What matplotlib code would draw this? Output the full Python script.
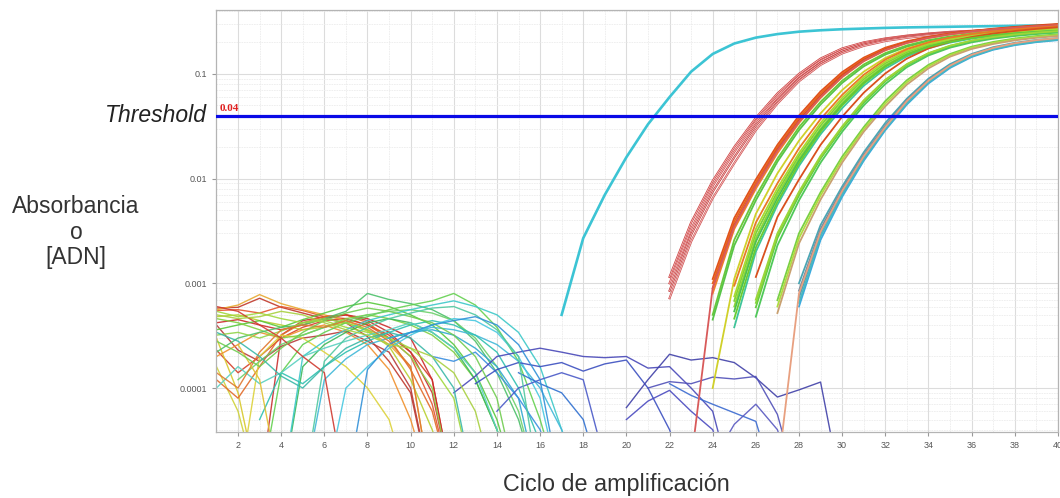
import numpy as np
import matplotlib.pyplot as plt
from matplotlib.ticker import LogLocator, NullFormatter, FixedLocator, MultipleLocator

plt.rcParams['font.family'] = ['Liberation Sans', 'DejaVu Sans']

# amplification curves: first cycle, fluorescence per cycle, colour
amp_start = [17, 22, 22, 22, 22,
             24, 24, 24, 24, 24, 24, 23, 24,
             25, 25, 25, 25, 25, 25,
             26, 26, 26, 26,
             27, 27, 27,
             28, 28, 28, 28, 28, 27,
             25, 26]
amp_values = [
    [5.0e-4, 2.7e-3, 7.0e-3, 0.016, 0.033, 0.06, 0.105, 0.155, 0.195, 0.222, 0.24, 0.253,
     0.261, 0.267, 0.271, 0.275, 0.278, 0.28, 0.282, 0.284, 0.286, 0.288, 0.29, 0.292],
    [1.15e-3, 3.8e-3, 9.5e-3, 0.02, 0.038, 0.065, 0.1, 0.14, 0.175, 0.2, 0.218, 0.232, 0.243,
     0.252, 0.258, 0.263, 0.267, 0.27, 0.273],
    [1.0e-3, 3.3e-3, 8.5e-3, 0.018, 0.035, 0.06, 0.095, 0.133, 0.168, 0.195, 0.214, 0.229,
     0.24, 0.249, 0.256, 0.261, 0.265, 0.269, 0.272],
    [8.5e-4, 2.9e-3, 7.5e-3, 0.016, 0.032, 0.056, 0.09, 0.127, 0.162, 0.19, 0.21, 0.225,
     0.237, 0.246, 0.253, 0.259, 0.263, 0.267, 0.27],
    [7.2e-4, 2.5e-3, 6.5e-3, 0.014, 0.029, 0.052, 0.085, 0.122, 0.157, 0.185, 0.206, 0.221,
     0.233, 0.243, 0.25, 0.256, 0.26, 0.264, 0.268],
    [1.1e-3, 4.2e-3, 0.0098, 0.021, 0.040, 0.068, 0.104, 0.143, 0.178, 0.205, 0.226, 0.243,
     0.257, 0.268, 0.278, 0.287, 0.296],
    [1.0e-3, 3.9e-3, 0.0092, 0.020, 0.038, 0.065, 0.100, 0.139, 0.174, 0.202, 0.224, 0.241,
     0.255, 0.267, 0.277, 0.286, 0.294],
    [9.0e-4, 3.6e-3, 0.0086, 0.019, 0.036, 0.062, 0.097, 0.136, 0.172, 0.201, 0.224, 0.242,
     0.257, 0.27, 0.281, 0.291, 0.30],
    [8.0e-4, 3.3e-3, 0.0080, 0.0175, 0.034, 0.059, 0.093, 0.132, 0.168, 0.197, 0.22, 0.238,
     0.253, 0.265, 0.275, 0.284, 0.292],
    [5.0e-4, 2.6e-3, 0.0068, 0.0155, 0.031, 0.054, 0.086, 0.123, 0.158, 0.187, 0.21, 0.228,
     0.242, 0.253, 0.262, 0.27, 0.277],
    [4.5e-4, 2.3e-3, 0.0062, 0.0145, 0.029, 0.051, 0.082, 0.118, 0.153, 0.182, 0.205, 0.223,
     0.237, 0.248, 0.257, 0.265, 0.272],
    [2.0e-5, 9.0e-4, 3.5e-3, 0.0085, 0.0185, 0.035, 0.06, 0.094, 0.133, 0.169, 0.198, 0.221,
     0.239, 0.254, 0.266, 0.276, 0.285, 0.293],
    [1.0e-4, 1.1e-3, 4.6e-3, 0.0112, 0.023, 0.042, 0.07, 0.105, 0.142, 0.175, 0.2, 0.22,
     0.236, 0.249, 0.26, 0.269, 0.277],
    [6.8e-4, 3.0e-3, 0.0075, 0.0165, 0.032, 0.056, 0.089, 0.126, 0.161, 0.19, 0.212, 0.229,
     0.242, 0.252, 0.26, 0.267],
    [6.0e-4, 2.7e-3, 0.007, 0.0155, 0.030, 0.053, 0.085, 0.121, 0.156, 0.185, 0.208, 0.225,
     0.238, 0.248, 0.256, 0.263],
    [5.4e-4, 2.5e-3, 0.0065, 0.0148, 0.029, 0.051, 0.082, 0.118, 0.153, 0.182, 0.204, 0.221,
     0.234, 0.244, 0.252, 0.259],
    [7.5e-4, 3.3e-3, 0.0081, 0.0175, 0.034, 0.059, 0.093, 0.131, 0.166, 0.194, 0.215, 0.231,
     0.244, 0.254, 0.262, 0.269],
    [3.8e-4, 2.0e-3, 0.0056, 0.0132, 0.0265, 0.047, 0.077, 0.112, 0.147, 0.176, 0.199, 0.217,
     0.231, 0.242, 0.25, 0.257],
    [9.5e-4, 3.8e-3, 0.009, 0.0195, 0.037, 0.063, 0.098, 0.137, 0.172, 0.2, 0.222, 0.24,
     0.254, 0.266, 0.276, 0.285],
    [1.15e-3, 4.3e-3, 0.0098, 0.021, 0.039, 0.066, 0.101, 0.14, 0.175, 0.203, 0.225, 0.243,
     0.257, 0.269, 0.279],
    [5.9e-4, 2.7e-3, 0.0069, 0.0155, 0.030, 0.053, 0.085, 0.121, 0.155, 0.183, 0.205, 0.222,
     0.235, 0.245, 0.253],
    [6.5e-4, 2.9e-3, 0.0073, 0.016, 0.031, 0.055, 0.087, 0.123, 0.157, 0.185, 0.207, 0.224,
     0.237, 0.247, 0.255],
    [4.8e-4, 2.3e-3, 0.0062, 0.0142, 0.028, 0.05, 0.08, 0.116, 0.15, 0.178, 0.2, 0.217,
     0.23, 0.24, 0.248],
    [6.9e-4, 3.0e-3, 0.0074, 0.0162, 0.031, 0.055, 0.087, 0.122, 0.155, 0.182, 0.202, 0.218,
     0.23, 0.239],
    [6.0e-4, 2.7e-3, 0.0069, 0.0152, 0.0295, 0.052, 0.083, 0.118, 0.151, 0.178, 0.198, 0.214,
     0.226, 0.235],
    [5.2e-4, 2.4e-3, 0.0063, 0.0142, 0.028, 0.049, 0.079, 0.113, 0.146, 0.173, 0.193, 0.209,
     0.221, 0.23],
    [1.0e-3, 3.6e-3, 0.0084, 0.0178, 0.034, 0.058, 0.09, 0.124, 0.155, 0.18, 0.198, 0.211, 0.22],
    [7.3e-4, 3.0e-3, 0.0074, 0.016, 0.031, 0.054, 0.085, 0.118, 0.149, 0.174, 0.192, 0.205, 0.214],
    [6.0e-4, 2.6e-3, 0.0067, 0.0148, 0.029, 0.051, 0.081, 0.114, 0.145, 0.17, 0.188, 0.201, 0.21],
    [8.5e-4, 3.3e-3, 0.0079, 0.0168, 0.032, 0.056, 0.087, 0.12, 0.151, 0.176, 0.194, 0.207, 0.216],
    [6.5e-4, 2.8e-3, 0.007, 0.0153, 0.0298, 0.052, 0.083, 0.116, 0.147, 0.172, 0.19, 0.203, 0.212],
    [1.5e-5, 8.0e-4, 3.1e-3, 0.0076, 0.0163, 0.031, 0.055, 0.086, 0.12, 0.152, 0.177, 0.196,
     0.21, 0.22],
    [4.6e-4, 2.2e-3, 0.006, 0.014, 0.028, 0.05, 0.081, 0.117, 0.152, 0.181, 0.203, 0.22,
     0.233, 0.243, 0.251, 0.258],
    [7.0e-4, 3.0e-3, 0.0075, 0.0165, 0.0315, 0.056, 0.088, 0.124, 0.158, 0.186, 0.208, 0.225,
     0.238, 0.248, 0.256],
]
amp_colors = ['#3cc4d4', '#cc3a3a', '#d04444', '#c23434', '#d05050',
              '#e0501c', '#e8661e', '#d84a1a', '#f07e2a', '#6cc83a', '#58c448', '#d85a5a', '#d0d02a',
              '#7cd23a', '#90d636', '#4cc050', '#a8da32', '#40c49a', '#e87a26',
              '#d9501e', '#64cc3c', '#86d43c', '#50c85a',
              '#78d044', '#b0dc40', '#c8a070',
              '#4aa6b4', '#5a9cb0', '#3aa8e0', '#7a8c9c', '#48b8c0', '#e8a080',
              '#68cc30', '#9cd63a']

# baseline noise curves
noise_start = [1, 1, 1, 1, 1, 1, 3, 1, 1, 1, 1, 2, 1,
               1, 1, 1, 3, 1, 2, 4, 1,
               4, 5, 3, 6, 9, 1, 11,
               12, 13, 14, 20, 21, 20, 22, 24, 15,
               1, 1, 2, 1, 5, 1, 7, 1]
noise_values = [
    [5.8e-4, 5.9e-4, 7.2e-4, 5.9e-4, 5.2e-4, 4.6e-4, 4.2e-4, 3.1e-4, 1.8e-4, 9e-5, 1e-5],
    [5.5e-4, 5.6e-4, 5.2e-4, 6.0e-4, 5.5e-4, 4.8e-4, 4.6e-4, 4.0e-4, 3.0e-4, 2.0e-4, 7e-5, 1e-5],
    [2.3e-4, 1.4e-4, 2.0e-4, 3.0e-4, 3.8e-4, 4.4e-4, 4.6e-4, 4.0e-4, 3.2e-4, 2.2e-4, 1.2e-4, 1e-5],
    [5.6e-4, 6.2e-4, 7.8e-4, 6.4e-4, 5.6e-4, 5.0e-4, 4.4e-4, 3.6e-4, 2.6e-4, 1.6e-4, 1e-5],
    [3.0e-4, 9e-5, 1e-5],
    [1.6e-4, 6e-5, 1e-5],
    [1e-5, 3.2e-4, 4.4e-4, 4.8e-4, 5.0e-4, 4.4e-4, 3.4e-4, 2.2e-4, 9e-5, 1e-5],
    [1.2e-4, 8e-5, 1.6e-4, 3.2e-4, 4.2e-4, 4.8e-4, 5.0e-4, 4.2e-4, 3.0e-4, 1.5e-4, 6e-5, 1e-5],
    [4.0e-4, 2.3e-4, 1.8e-4, 2.5e-4, 3.0e-4, 3.2e-4, 3.5e-4, 2.8e-4, 2.2e-4, 1.0e-4, 1e-5],
    [2.0e-4, 2.6e-4, 3.4e-4, 3.0e-4, 3.6e-4, 4.0e-4, 3.4e-4, 2.6e-4, 1.5e-4, 5e-5, 1e-5],
    [4.8e-4, 5.0e-4, 4.4e-4, 4.0e-4, 3.6e-4, 3.8e-4, 4.2e-4, 3.5e-4, 2.5e-4, 1.2e-4, 4e-5, 1e-5],
    [1e-5, 2.0e-4, 3.2e-4, 3.0e-4, 2.2e-4, 1.6e-4, 1.0e-4, 5e-5, 1e-5],
    [4.2e-4, 4.5e-4, 4.0e-4, 3.6e-4, 4.0e-4, 4.6e-4, 5.0e-4, 4.6e-4, 3.8e-4, 3.0e-4, 1.2e-4, 1e-5],
    [3.6e-4, 4.0e-4, 4.4e-4, 3.8e-4, 4.5e-4, 5.2e-4, 6.0e-4, 6.6e-4, 6.0e-4, 5.0e-4, 4.0e-4,
     2.6e-4, 1.4e-4, 5e-5, 1e-5],
    [4.6e-4, 4.2e-4, 3.6e-4, 3.0e-4, 3.2e-4, 3.8e-4, 4.6e-4, 5.0e-4, 4.6e-4, 4.0e-4, 3.2e-4,
     2.2e-4, 1.2e-4, 4e-5, 1e-5],
    [2.2e-4, 3.0e-4, 3.4e-4, 3.8e-4, 4.0e-4, 4.6e-4, 5.4e-4, 8.0e-4, 7.0e-4, 6.4e-4, 5.6e-4,
     4.4e-4, 2.8e-4, 1.4e-4, 5e-5, 1e-5],
    [1e-5, 1.4e-4, 2.6e-4, 3.4e-4, 4.2e-4, 4.8e-4, 5.6e-4, 6.2e-4, 6.8e-4, 8.0e-4, 6.2e-4,
     3.8e-4, 1.8e-4, 5e-5, 1e-5],
    [5.4e-4, 4.8e-4, 5.2e-4, 4.6e-4, 4.2e-4, 4.4e-4, 3.8e-4, 3.4e-4, 3.0e-4, 2.4e-4, 1.6e-4,
     8e-5, 1e-5],
    [1.2e-4, 1.8e-4, 2.6e-4, 3.2e-4, 3.8e-4, 4.4e-4, 5.0e-4, 5.4e-4, 5.6e-4, 5.2e-4, 4.4e-4,
     3.0e-4, 1.6e-4, 6e-5, 1e-5],
    [1e-5, 1.6e-4, 2.6e-4, 3.4e-4, 4.2e-4, 4.6e-4, 4.2e-4, 3.4e-4, 2.4e-4, 1.2e-4, 4e-5, 1e-5],
    [3.2e-4, 3.4e-4, 3.0e-4, 3.5e-4, 4.2e-4, 4.6e-4, 4.2e-4, 3.6e-4, 3.0e-4, 2.0e-4, 1.0e-4, 1e-5],
    [1e-5, 2.0e-4, 2.8e-4, 3.6e-4, 4.4e-4, 5.0e-4, 5.6e-4, 6.2e-4, 6.8e-4, 6.0e-4, 5.0e-4,
     3.4e-4, 1.6e-4, 4e-5, 1e-5],
    [1e-5, 1.2e-4, 1.9e-4, 2.6e-4, 3.0e-4, 3.4e-4, 3.8e-4, 3.6e-4, 3.2e-4, 2.6e-4, 1.8e-4,
     1.0e-4, 4e-5, 1e-5],
    [5e-5, 1.4e-4, 1.1e-4, 1.6e-4, 2.2e-4, 2.8e-4, 3.4e-4, 4.0e-4, 4.4e-4, 4.0e-4, 3.2e-4,
     2.2e-4, 1.0e-4, 3e-5],
    [1e-5, 1.0e-4, 1.6e-4, 2.4e-4, 3.2e-4, 4.0e-4, 4.6e-4, 4.4e-4, 3.4e-4, 2.0e-4, 8e-5, 1e-5],
    [3.0e-4, 3.4e-4, 3.6e-4, 3.2e-4, 2.4e-4, 1.6e-4, 8e-5, 1e-5],
    [1.0e-4, 1.6e-4, 1.1e-4, 1.4e-4, 2.0e-4, 2.4e-4, 2.8e-4, 3.2e-4, 3.6e-4, 4.2e-4, 3.4e-4,
     2.4e-4, 1.4e-4, 4e-5, 1e-5],
    [2.0e-4, 1.8e-4, 2.2e-4, 1.4e-4, 8e-5, 4e-5, 1e-5],
    [9e-5, 1.3e-4, 2.0e-4, 2.2e-4, 2.4e-4, 2.2e-4, 2.0e-4, 1.95e-4, 2.0e-4, 1.55e-4, 1.6e-4,
     1.0e-4, 6e-5, 1e-5],
    [1.1e-4, 1.5e-4, 1.75e-4, 1.6e-4, 1.75e-4, 1.45e-4, 1.7e-4, 1.85e-4, 1.0e-4, 4e-5, 1e-5],
    [6e-5, 1.0e-4, 1.2e-4, 1.4e-4, 1.2e-4, 2e-5],
    [6.5e-5, 1.2e-4, 2.1e-4, 1.85e-4, 1.95e-4, 1.75e-4, 1.25e-4, 8.2e-5, 9.6e-5, 1.14e-4, 1e-5],
    [1.0e-4, 1.15e-4, 1.1e-4, 1.27e-4, 1.22e-4, 1.29e-4, 5.6e-5, 1e-5],
    [5e-5, 7.5e-5, 9.5e-5, 6e-5, 4e-5, 1e-5],
    [1.1e-4, 8.5e-5, 7e-5, 5.8e-5, 4.8e-5, 1e-5],
    [2e-5, 4.5e-5, 7e-5, 4e-5, 1e-5],
    [1.4e-4, 1.1e-4, 9e-5, 5e-5, 1e-5],
    [6.0e-4, 5.4e-4, 4.0e-4, 3.0e-4, 2.0e-4, 1.4e-4, 1e-5],
    [1.4e-4, 1.0e-4, 2.2e-4, 3.6e-4, 4.0e-4, 3.8e-4, 4.4e-4, 3.8e-4, 2.8e-4, 1.6e-4, 1e-5],
    [2.6e-4, 1.2e-4, 1e-5],
    [2.8e-4, 2.2e-4, 1.6e-4, 2.4e-4, 3.4e-4, 4.4e-4, 5.2e-4, 5.8e-4, 5.4e-4, 4.8e-4, 4.2e-4,
     3.2e-4, 2.0e-4, 8e-5, 1e-5],
    [1e-5, 1.8e-4, 3.0e-4, 3.8e-4, 4.6e-4, 5.2e-4, 5.8e-4, 6.0e-4, 5.0e-4, 3.6e-4, 2.0e-4, 1e-5],
    [3.4e-4, 2.8e-4, 2.0e-4, 1.3e-4, 1.0e-4, 1.6e-4, 2.4e-4, 3.0e-4, 3.4e-4, 3.0e-4, 2.0e-4,
     1.0e-4, 1e-5],
    [1e-5, 1.5e-4, 2.6e-4, 3.4e-4, 4.0e-4, 4.4e-4, 4.8e-4, 4.0e-4, 2.6e-4, 1.2e-4, 1e-5],
    [5.0e-4, 4.6e-4, 4.8e-4, 5.4e-4, 5.0e-4, 4.2e-4, 3.6e-4, 3.2e-4, 2.6e-4, 2.4e-4, 2.0e-4,
     1.4e-4, 6e-5, 1e-5],
]
noise_colors = ['#c0392b', '#e4572e', '#d4402a', '#e8a830', '#d8c82c', '#cfd23a', '#c83030',
                '#e26a28', '#b83a3a', '#f0902c', '#b8d030', '#dcd23a', '#cc2a2a',
                '#58c83c', '#80d040', '#4cc06a', '#64d050', '#a0d83c', '#6cd06a', '#3cb85a',
                '#90d448',
                '#3cc8c8', '#40b8d8', '#2ec0b0', '#48c8e0', '#30a8d0', '#5ad0c0', '#3a8ee0',
                '#4848b8', '#3c50c0', '#4a5ac8', '#4040a8', '#5050b8', '#4a4ac0', '#3a6ad0',
                '#5858c0', '#3070d0',
                '#d03a30', '#e07830', '#e0c030', '#70cc50', '#50c8a0', '#3ab8a8', '#3090d8',
                '#a8d040']

threshold = 0.04
x_ticks = list(range(2, 41, 2))
y_ticks = [0.0001, 0.001, 0.01, 0.1]
y_labels = ['0.0001', '0.001', '0.01', '0.1']

fig = plt.figure(figsize=(10.6, 4.98), dpi=100)
ax = fig.add_axes([0.2042, 0.1325, 0.7938, 0.8475])

for s, v, c in zip(noise_start, noise_values, noise_colors):
    ax.plot(np.arange(s, s + len(v)), v, color=c, lw=1.0, alpha=0.9)

for i, (s, v, c) in enumerate(zip(amp_start, amp_values, amp_colors)):
    x = np.arange(s, s + len(v))
    if i == 0:
        ax.plot(x, v, color=c, lw=1.9)
    elif 1 <= i <= 4:
        ax.plot(x, v, color=c, lw=1.5)
        ax.plot(x, v, color='#f6d0d0', lw=0.5)
    else:
        ax.plot(x, v, color=c, lw=1.3)

ax.axhline(threshold, color='#0a0ae6', lw=2.3, zorder=5)

ax.set_yscale('log')
ax.set_xlim(1, 40)
ax.set_ylim(3.8e-5, 0.408)

ax.xaxis.set_major_locator(FixedLocator(x_ticks))
ax.xaxis.set_minor_locator(MultipleLocator(1))
ax.yaxis.set_major_locator(FixedLocator(y_ticks))
ax.yaxis.set_minor_locator(LogLocator(base=10, subs=np.arange(2, 10)))
ax.yaxis.set_minor_formatter(NullFormatter())
ax.set_yticklabels(y_labels)

ax.grid(which='major', color='#dcdcdc', lw=0.8)
ax.grid(which='minor', color='#ececec', lw=0.6, ls=(0, (2, 1)))
ax.set_axisbelow(True)
ax.tick_params(which='major', labelsize=6.5, labelcolor='#555555', color='#999999',
               length=3, width=0.8)
ax.tick_params(which='minor', length=0)
for sp in ax.spines.values():
    sp.set_color('#b4b4b4')
    sp.set_linewidth(0.9)

ax.text(1.15, threshold * 1.06, '0.04', color='#e02020', fontsize=8, fontweight='bold',
        family='Liberation Serif', ha='left', va='bottom', zorder=6)
fig.text(207 / 1060, 1 - 116 / 498, 'Threshold', fontsize=16.5, style='italic',
         color='#222222', ha='right', va='center')
fig.text(76 / 1060, 1 - 232 / 498, 'Absorbancia\no\n[ADN]', fontsize=16.5, color='#333333',
         ha='center', va='center', linespacing=1.15)
fig.text(616 / 1060, 1 - 484 / 498, 'Ciclo de amplificación', fontsize=16.8, color='#333333',
         ha='center', va='center')

fig.savefig('out.png', dpi=100)
